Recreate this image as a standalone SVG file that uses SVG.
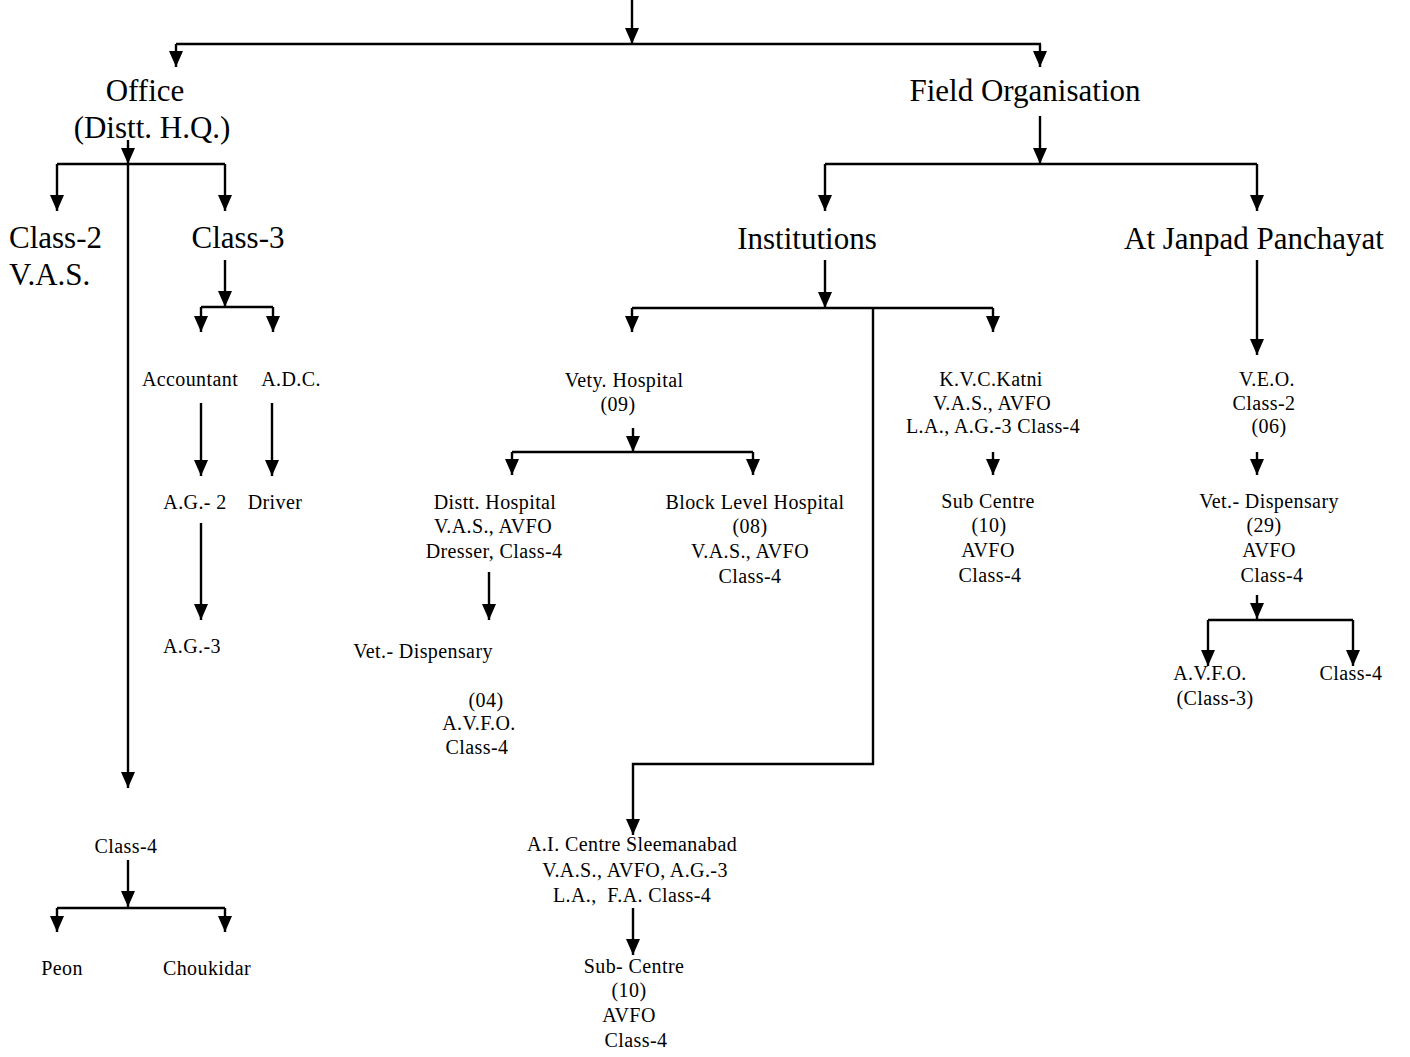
<svg xmlns="http://www.w3.org/2000/svg" width="1410" height="1057" viewBox="0 0 1410 1057">
<defs>
<marker id="ah" markerUnits="userSpaceOnUse" markerWidth="16" markerHeight="14" refX="16" refY="7" orient="auto">
<path d="M0,0 L16,7 L0,14 z" fill="#000"/>
</marker>
<style>
.c line, .c path { stroke:#000; stroke-width:2.4; fill:none; }
.a { marker-end:url(#ah); }
text { font-family:"Liberation Serif","Times New Roman",serif; fill:#000; }
.L { font-size:31px; text-anchor:middle; }
.S { font-size:20px; text-anchor:middle; letter-spacing:0.4px; }
</style>
</defs>
<rect width="1410" height="1057" fill="#fff"/>
<g id="connectors" class="c">
<path class="a" d="M632,0 V44"/>
<path d="M176,44 H1041"/>
<path class="a" d="M176,44 V67"/>
<path class="a" d="M1040,44 V67"/>
<path class="a" d="M128,140 V164"/>
<path d="M57,164 H225"/>
<path class="a" d="M57,164 V211"/>
<path class="a" d="M225,164 V211"/>
<path class="a" d="M128,164 V788"/>
<path class="a" d="M225,260 V307"/>
<path d="M201,307 H273"/>
<path class="a" d="M201,307 V332"/>
<path class="a" d="M273,307 V332"/>
<path class="a" d="M201,403 V476"/>
<path class="a" d="M272,403 V476"/>
<path class="a" d="M201,523 V620"/>
<path class="a" d="M128,860 V907"/>
<path d="M57,908 H225"/>
<path class="a" d="M57,908 V932"/>
<path class="a" d="M225,908 V932"/>
<path class="a" d="M1040,116 V164"/>
<path d="M825,164 H1257"/>
<path class="a" d="M825,164 V211"/>
<path class="a" d="M1257,164 V211"/>
<path class="a" d="M825,260 V308"/>
<path d="M632,308 H993"/>
<path class="a" d="M632,308 V332"/>
<path class="a" d="M993,308 V332"/>
<path class="a" d="M873,308 V764 H633 V835"/>
<path class="a" d="M1257,260 V355"/>
<path class="a" d="M633,428 V452"/>
<path d="M512,452 H753"/>
<path class="a" d="M512,452 V475"/>
<path class="a" d="M753,452 V475"/>
<path class="a" d="M489,572 V620"/>
<path class="a" d="M993,452 V475"/>
<path class="a" d="M1257,452 V475"/>
<path class="a" d="M1257,595 V619"/>
<path d="M1208,620 H1353"/>
<path class="a" d="M1208,620 V666"/>
<path class="a" d="M1353,620 V666"/>
<path class="a" d="M633,908 V955"/>
</g>
<g id="office"><text class="L" x="145" y="101">Office</text><text class="L" x="152" y="138">(Distt. H.Q.)</text></g>
<g id="field"><text class="L" x="1025" y="101">Field Organisation</text></g>
<g id="class2"><text class="L" x="9" y="248" style="text-anchor:start">Class-2</text><text class="L" x="9" y="285" style="text-anchor:start">V.A.S.</text></g>
<g id="class3"><text class="L" x="238" y="248">Class-3</text></g>
<g id="institutions"><text class="L" x="807" y="249">Institutions</text></g>
<g id="janpad"><text class="L" x="1254" y="249">At Janpad Panchayat</text></g>
<g id="accountant"><text class="S" x="190" y="386">Accountant</text></g>
<g id="adc"><text class="S" x="291" y="386">A.D.C.</text></g>
<g id="ag2"><text class="S" x="195" y="509">A.G.- 2</text></g>
<g id="driver"><text class="S" x="275" y="509">Driver</text></g>
<g id="ag3"><text class="S" x="192" y="653">A.G.-3</text></g>
<g id="class4office"><text class="S" x="126" y="853">Class-4</text></g>
<g id="peon"><text class="S" x="62" y="975">Peon</text></g>
<g id="choukidar"><text class="S" x="207" y="975">Choukidar</text></g>
<g id="vetyhospital"><text class="S" x="624" y="387">Vety. Hospital</text><text class="S" x="618" y="411">(09)</text></g>
<g id="disttHospital"><text class="S" x="495" y="509">Distt. Hospital</text><text class="S" x="493" y="533">V.A.S., AVFO</text><text class="S" x="494" y="558">Dresser, Class-4</text></g>
<g id="blockHospital"><text class="S" x="755" y="509">Block Level Hospital</text><text class="S" x="750" y="533">(08)</text><text class="S" x="750" y="558">V.A.S., AVFO</text><text class="S" x="750" y="583">Class-4</text></g>
<g id="vetDispLeft"><text class="S" x="423" y="658">Vet.- Dispensary</text><text class="S" x="486" y="707">(04)</text><text class="S" x="479" y="730">A.V.F.O.</text><text class="S" x="477" y="754">Class-4</text></g>
<g id="kvc"><text class="S" x="991" y="386">K.V.C.Katni</text><text class="S" x="992" y="410">V.A.S., AVFO</text><text class="S" x="993" y="433">L.A., A.G.-3 Class-4</text></g>
<g id="subCentreKvc"><text class="S" x="988" y="508">Sub Centre</text><text class="S" x="989" y="532">(10)</text><text class="S" x="988" y="557">AVFO</text><text class="S" x="990" y="582">Class-4</text></g>
<g id="veo"><text class="S" x="1267" y="386">V.E.O.</text><text class="S" x="1264" y="410">Class-2</text><text class="S" x="1269" y="433">(06)</text></g>
<g id="vetDispRight"><text class="S" x="1269" y="508">Vet.- Dispensary</text><text class="S" x="1264" y="532">(29)</text><text class="S" x="1269" y="557">AVFO</text><text class="S" x="1272" y="582">Class-4</text></g>
<g id="avfoClass3"><text class="S" x="1210" y="680">A.V.F.O.</text><text class="S" x="1215" y="705">(Class-3)</text></g>
<g id="class4right"><text class="S" x="1351" y="680">Class-4</text></g>
<g id="aiCentre"><text class="S" x="632" y="851">A.I. Centre Sleemanabad</text><text class="S" x="635" y="877">V.A.S., AVFO, A.G.-3</text><text class="S" x="632" y="902" xml:space="preserve">L.A.,  F.A. Class-4</text></g>
<g id="subCentreAi"><text class="S" x="634" y="973">Sub- Centre</text><text class="S" x="629" y="997">(10)</text><text class="S" x="629" y="1022">AVFO</text><text class="S" x="636" y="1047">Class-4</text></g>
</svg>
